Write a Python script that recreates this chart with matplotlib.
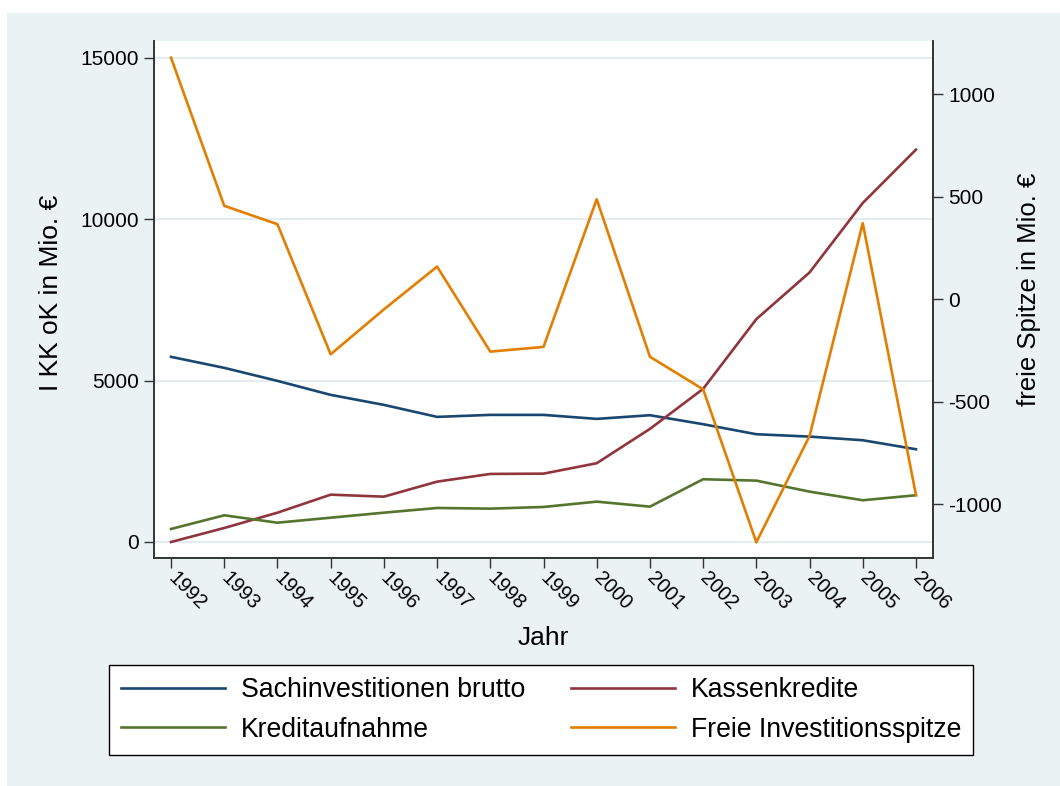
import numpy as np
import matplotlib.pyplot as plt
from matplotlib.patches import Rectangle

plt.rcParams['font.family'] = ['Liberation Sans', 'DejaVu Sans']
plt.rcParams['axes.unicode_minus'] = False

# data (Mio. EUR)
jahre = [1992, 1993, 1994, 1995, 1996, 1997, 1998, 1999,
         2000, 2001, 2002, 2003, 2004, 2005, 2006]
sachinv = [5735, 5394, 4990, 4557, 4247, 3875, 3937, 3937,
           3813, 3927, 3648, 3338, 3264, 3152, 2873]
kassenkredite = [0, 434, 908, 1466, 1404, 1869, 2108, 2117,
                 2440, 3503, 4743, 6903, 8349, 10500, 12152]
kreditaufnahme = [403, 827, 598, 753, 908, 1054, 1033, 1085,
                  1250, 1095, 1944, 1901, 1560, 1293, 1448]
freie_spitze = [1179, 456, 366, -269, -50, 159, -256, -233,
                488, -281, -440, -1187, -668, 371, -956]

navy = '#1A476F'
maroon = '#90353B'
green = '#55752F'
orange = '#E37E00'
bg = '#EAF2F3'
axcol = '#333333'

W, H = 1060, 786
fig = plt.figure(figsize=(W/100, H/100), dpi=100)
fig.patch.set_facecolor('white')
fig.patches.append(Rectangle((7/W, 0), 1 - 7/W, 1 - 13/H, transform=fig.transFigure,
                             facecolor=bg, edgecolor='none', zorder=-10))

ax = fig.add_axes([154/W, 1 - 558.3/H, (933 - 154)/W, (558.3 - 40.7)/H])
ax.set_facecolor('white')
ax2 = ax.twinx()

lw = 1.9
l1, = ax.plot(jahre, sachinv, color=navy, lw=lw)
l2, = ax.plot(jahre, kassenkredite, color=maroon, lw=lw)
l3, = ax.plot(jahre, kreditaufnahme, color=green, lw=lw)
l4, = ax2.plot(jahre, freie_spitze, color=orange, lw=lw)

ax.set_xlim(1991.68, 2006.32)
ax.set_ylim(-505, 15527)
ax2.set_ylim(-1265, 1262)

ax.set_yticks([0, 5000, 10000, 15000])
ax2.set_yticks([-1000, -500, 0, 500, 1000])
ax.set_xticks(jahre)
ax.set_xticklabels([str(j) for j in jahre], rotation=-45, ha='left', va='center',
                   rotation_mode='anchor')
ax.grid(axis='y', color='#E3ECEE', lw=1.5)
ax.set_axisbelow(True)

for a in (ax, ax2):
    a.spines['top'].set_visible(False)
    for s in ('left', 'bottom', 'right'):
        a.spines[s].set_color(axcol)
        a.spines[s].set_linewidth(1.2)
    a.tick_params(length=7, width=1, color=axcol, labelsize=15, pad=4)
ax.tick_params(axis='x', labelsize=14.5, pad=5)

ax.set_ylabel('I KK oK in Mio. €', fontsize=19)
ax.yaxis.set_label_coords((51 - 154)/779, (558.3 - 293)/517.6)
ax.yaxis.label.set_verticalalignment('center')
ax2.set_ylabel('freie Spitze in Mio. €', fontsize=18.5)
ax2.yaxis.set_label_coords((1029 - 154)/779, (558.3 - 289)/517.6)
ax2.yaxis.label.set_verticalalignment('center')
ax.set_xlabel('Jahr', fontsize=19, labelpad=9)

leg = fig.legend([l1, l3, l2, l4],
                 ['Sachinvestitionen brutto', 'Kreditaufnahme',
                  'Kassenkredite', 'Freie Investitionsspitze'],
                 ncol=2, loc='center', bbox_to_anchor=(541/W, 1 - 710/H),
                 fontsize=19.2, handlelength=3.9, handletextpad=0.6,
                 columnspacing=1.7, labelspacing=0.5, borderpad=0.45,
                 fancybox=False, framealpha=1, facecolor='white',
                 edgecolor='black')
leg.get_frame().set_linewidth(1.0)

fig.savefig('out.png', dpi=100, facecolor=fig.get_facecolor())
